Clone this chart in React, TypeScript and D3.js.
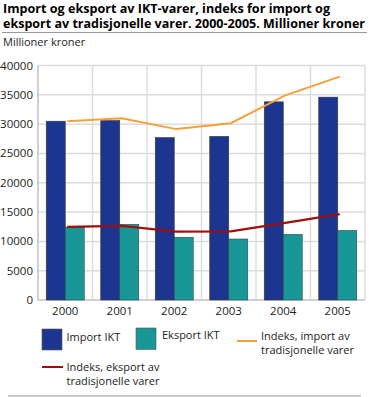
import React from "react";
import * as d3 from "d3";

const years = ["2000", "2001", "2002", "2003", "2004", "2005"];
const importIKT = [30500, 30600, 27700, 27900, 33800, 34600];
const eksportIKT = [12450, 12900, 10700, 10400, 11200, 11850];
const indeksImport = [30500, 31000, 29150, 30150, 34900, 38100];
const indeksEksport = [12480, 12650, 11650, 11700, 13150, 14650];
const yTicks = [0, 5000, 10000, 15000, 20000, 25000, 30000, 35000, 40000];

const W = 369;
const H = 397;
const FONT = "'Open Sans', 'DejaVu Sans', sans-serif";
const C_IMP = "#1b3591";
const C_EKS = "#199797";
const C_OR = "#f7a03a";
const C_RED = "#9c1010";

export default function App() {
  const left = 38, right = 365, top = 65.5, bottom = 300;
  const x = d3.scaleBand<string>().domain(years).range([left, right]).paddingInner(0).paddingOuter(0);
  const y = d3.scaleLinear().domain([0, 40000]).range([bottom, top]);
  const bw = 19;
  const cx = (i: number) => (x(years[i]) as number) + x.bandwidth() / 2;
  const line = d3.line<number>().x((_, i) => cx(i) + 2).y((v) => y(v));

  return (
    <svg width={W} height={H} style={{ position: "absolute", left: 0, top: 0 }} fontFamily={FONT}>
      <rect width={W} height={H} fill="#fff" />
      <text x={3} y={12.5} fontSize={12} fontWeight="bold" fill="#000" textLength={327} lengthAdjust="spacingAndGlyphs">Import og eksport av IKT-varer, indeks for import og</text>
      <text x={3} y={27.5} fontSize={12} fontWeight="bold" fill="#000" textLength={362} lengthAdjust="spacingAndGlyphs">eksport av tradisjonelle varer. 2000-2005. Millioner kroner</text>
      <line x1={2} x2={367} y1={32.5} y2={32.5} stroke="#999" strokeWidth={1} />
      <text x={3} y={46} fontSize={11} fill="#222">Millioner kroner</text>

      {/* grid */}
      {yTicks.map((t) => (
        <line key={"h" + t} x1={left} x2={right} y1={y(t)} y2={y(t)} stroke="#dcdcdc" strokeWidth={1.5} />
      ))}
      {years.map((yr) => (
        <line key={"v" + yr} x1={(x(yr) as number)} x2={(x(yr) as number)} y1={top} y2={bottom} stroke="#dcdcdc" strokeWidth={1.5} />
      ))}
      <line x1={right} x2={right} y1={top} y2={bottom} stroke="#dcdcdc" strokeWidth={1.5} />
      <line x1={left} x2={left} y1={top} y2={bottom} stroke="#bbb" strokeWidth={1} />
      <line x1={left} x2={right} y1={bottom} y2={bottom} stroke="#bbb" strokeWidth={1} />

      {yTicks.map((t) => (
        <text key={"t" + t} x={33} y={y(t) + 4} fontSize={11.5} textAnchor="end" fill="#222">{t}</text>
      ))}
      {years.map((yr, i) => (
        <text key={"x" + yr} x={cx(i)} y={315} fontSize={11.5} textAnchor="middle" fill="#222">{yr}</text>
      ))}

      {/* bars */}
      {years.map((yr, i) => (
        <g key={"b" + yr}>
          <rect x={cx(i) - bw} y={y(importIKT[i])} width={bw} height={bottom - y(importIKT[i])} fill={C_IMP} stroke="#333" strokeWidth={0.6} />
          <rect x={cx(i)} y={y(eksportIKT[i])} width={bw} height={bottom - y(eksportIKT[i])} fill={C_EKS} stroke="#2a4a4a" strokeWidth={0.6} />
        </g>
      ))}

      <path d={line(indeksImport) as string} fill="none" stroke={C_OR} strokeWidth={2} />
      <path d={line(indeksEksport) as string} fill="none" stroke={C_RED} strokeWidth={2.2} />

      {/* legend */}
      <rect x={42} y={329} width={20} height={21} fill={C_IMP} stroke="#555" strokeWidth={0.6} />
      <text x={66.5} y={341} fontSize={11} fill="#222">Import IKT</text>
      <rect x={136} y={328} width={20} height={21.5} fill={C_EKS} stroke="#555" strokeWidth={0.6} />
      <text x={162} y={338.5} fontSize={11} fill="#222">Eksport IKT</text>
      <line x1={237} x2={257} y1={341} y2={341} stroke={C_OR} strokeWidth={2} />
      <text x={261} y={340} fontSize={11} fill="#222">Indeks, import av</text>
      <text x={261} y={354} fontSize={11} fill="#222">tradisjonelle varer</text>
      <line x1={42} x2={63} y1={367} y2={367} stroke={C_RED} strokeWidth={2} />
      <text x={66.5} y={371} fontSize={11} fill="#222">Indeks, eksport av</text>
      <text x={66.5} y={385} fontSize={11} fill="#222">tradisjonelle varer</text>
      <line x1={8} x2={361} y1={396} y2={396} stroke="#bbb" strokeWidth={1.5} />
    </svg>
  );
}
